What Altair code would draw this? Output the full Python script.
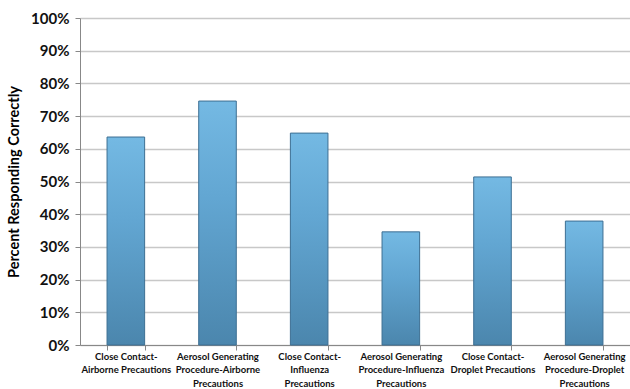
import altair as alt
import pandas as pd

categories = [
    "Close Contact-|Airborne Precautions",
    "Aerosol Generating|Procedure-Airborne|Precautions",
    "Close Contact-|Influenza|Precautions",
    "Aerosol Generating|Procedure-Influenza|Precautions",
    "Close Contact-|Droplet Precautions",
    "Aerosol Generating|Procedure-Droplet|Precautions",
]
values = [0.636, 0.746, 0.648, 0.346, 0.514, 0.379]

df = pd.DataFrame({"cat": categories, "val": values})

grad = alt.Gradient(
    gradient="linear",
    stops=[
        alt.GradientStop(color="#74b9e3", offset=0),
        alt.GradientStop(color="#62a6d2", offset=0.4),
        alt.GradientStop(color="#4b86ad", offset=1),
    ],
    x1=0, x2=0, y1=0, y2=1,
)

chart = (
    alt.Chart(df)
    .mark_bar(color=grad, stroke="#3d6f93", strokeWidth=1)
    .encode(
        x=alt.X(
            "cat:N",
            sort=categories,
            scale=alt.Scale(paddingInner=0.59, paddingOuter=0.295),
            axis=alt.Axis(
                title=None,
                labelAngle=0,
                labelExpr="split(datum.label, '|')",
                labelFont="Lato",
                labelFontSize=9.5,
                labelFontWeight="bold",
                labelColor="#111",
                labelLineHeight=13.5,
                labelPadding=1,
                labelLimit=120,
                tickBand="extent",
                tickSize=5,
                tickColor="#888",
                domainColor="#888",
                grid=False,
            ),
        ),
        y=alt.Y(
            "val:Q",
            scale=alt.Scale(domain=[0, 1]),
            axis=alt.Axis(
                title="Percent Responding Correctly",
                titleFont="Lato",
                titleFontSize=14.5,
                titleFontWeight="bold",
                titleColor="#000",
                titlePadding=9,
                format=".0%",
                values=[i / 10 for i in range(11)],
                labelFont="Lato",
                labelFontSize=15,
                labelFontWeight="bold",
                labelColor="#111",
                labelPadding=6,
                tickSize=5,
                tickColor="#888",
                domainColor="#888",
                gridColor="#c8c8c8",
                gridWidth=1.5,
            ),
        ),
    )
    .properties(
        width=550,
        height=327,
        autosize=alt.AutoSizeParams(type="none"),
        padding={"left": 80, "top": 18, "right": 0, "bottom": 44},
    )
    .configure_view(stroke=None)
)

chart.save("out.html", embed_options={"renderer": "svg", "actions": False})
